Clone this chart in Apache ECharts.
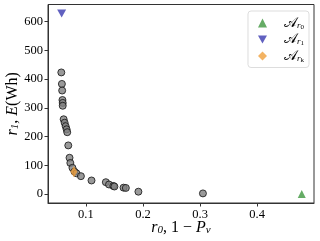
<!DOCTYPE html>
<html><head><meta charset="utf-8">
<script src="https://cdn.jsdelivr.net/npm/echarts@6/dist/echarts.min.js"></script>
<style>html,body{margin:0;padding:0;background:#fff}#c{width:320px;height:241px}</style>
</head><body><div id="c"></div>
<script>
const circleX = [0.057,0.058,0.0585,0.059,0.0595,0.0595,0.0611,0.0628,0.0646,0.0663,0.0674,0.0692,0.0714,0.0728,0.0765,0.080,0.0835,0.0913,0.1099,0.135,0.1405,0.148,0.150,0.166,0.170,0.192,0.305];
const circleY = [423,383,360,327,317,307,260,248,236,225,215,169,126,108,91,78,72,62,47,41,33,28,26,22,21,8,2];
const r0Point = [0.478, 0];
const r1Point = [0.0576, 628];
const rkPoint = [0.0791, 77];
const xTicks = [0.1,0.2,0.3,0.4];
const yTicks = [0,100,200,300,400,500,600];
const legendNames = ['A0','A1','Ak'];
const legendSubs = ['0','1','k'];

const serif = '"Liberation Serif","DejaVu Serif",serif';
const frame = '#333';
const downTri = 'path://M0,0 L10,0 L5,9 Z';
const chart = echarts.init(document.getElementById('c'), null, {renderer:'canvas'});
const pts = circleX.map((x,i)=>[x,circleY[i]]);
const nameRich = {i:{fontFamily:serif,fontStyle:'italic',fontSize:16,color:'#000'},n:{fontFamily:serif,fontSize:16,color:'#000'},s:{fontFamily:serif,fontStyle:'italic',fontSize:11,color:'#000',padding:[6,0,0,0]}};
chart.setOption({
  animation:false,
  grid:{left:48,right:6,top:4.5,bottom:38,show:true,borderColor:frame,borderWidth:1,outerBoundsMode:'none',containLabel:false},
  xAxis:{type:'value',min:0.0337,max:0.4995,
    name:'{i|r}{s|0}{n|, 1 − }{i|P}{s|v}',nameLocation:'middle',nameGap:16,nameMoveOverlap:false,
    nameTextStyle:{rich:nameRich},
    axisLine:{show:true,onZero:false,lineStyle:{color:frame,width:1}},
    axisTick:{show:true,length:3.5,customValues:xTicks,lineStyle:{color:frame}},
    axisLabel:{customValues:xTicks,fontFamily:serif,fontSize:12.5,color:'#000',margin:5,formatter:v=>v.toFixed(1)},
    splitLine:{show:false}},
  yAxis:{type:'value',min:-31.4,max:659.4,
    name:'{i|r}{s|1}{n|, }{i|E}{n|(Wh)}',nameLocation:'middle',nameGap:27,nameMoveOverlap:false,
    nameTextStyle:{rich:nameRich},
    axisLine:{show:true,onZero:false,lineStyle:{color:frame,width:1}},
    axisTick:{show:true,length:3.5,customValues:yTicks,lineStyle:{color:frame}},
    axisLabel:{customValues:yTicks,fontFamily:serif,fontSize:12.5,color:'#000',margin:5},
    splitLine:{show:false}},
  legend:{orient:'vertical',right:11,top:11,padding:[5,5,4,10],itemGap:2,itemWidth:9,itemHeight:9,
    borderColor:'#ddd',borderWidth:1,borderRadius:3,backgroundColor:'#fff',
    data:[{name:'A0',icon:'triangle'},{name:'A1',icon:downTri},{name:'Ak',icon:'diamond'}],
    formatter:n=>'{a|𝒜}{s|r}{z|'+legendSubs[legendNames.indexOf(n)]+'}',
    textStyle:{rich:{a:{fontFamily:serif,fontSize:14,color:'#000',padding:[0,0,0,12]},s:{fontFamily:serif,fontStyle:'italic',fontSize:9,color:'#000',padding:[5,0,0,0]},z:{fontFamily:serif,fontSize:7,color:'#000',padding:[8,0,0,0]}}}},
  series:[
    {type:'scatter',name:'pts',data:pts,symbol:'circle',symbolSize:7,itemStyle:{color:'#808080',borderColor:'#111',borderWidth:1},z:2},
    {type:'scatter',name:'Ak',data:[rkPoint],symbol:'diamond',symbolSize:[7,11],itemStyle:{color:'#f0a03c'},z:3},
    {type:'scatter',name:'A0',data:[r0Point],symbol:'triangle',symbolSize:8,itemStyle:{color:'#3f973f'},z:3},
    {type:'scatter',name:'A1',data:[r1Point],symbol:downTri,symbolSize:[9,8],itemStyle:{color:'#3a3ab0'},z:3}
  ]
});
</script></body></html>
